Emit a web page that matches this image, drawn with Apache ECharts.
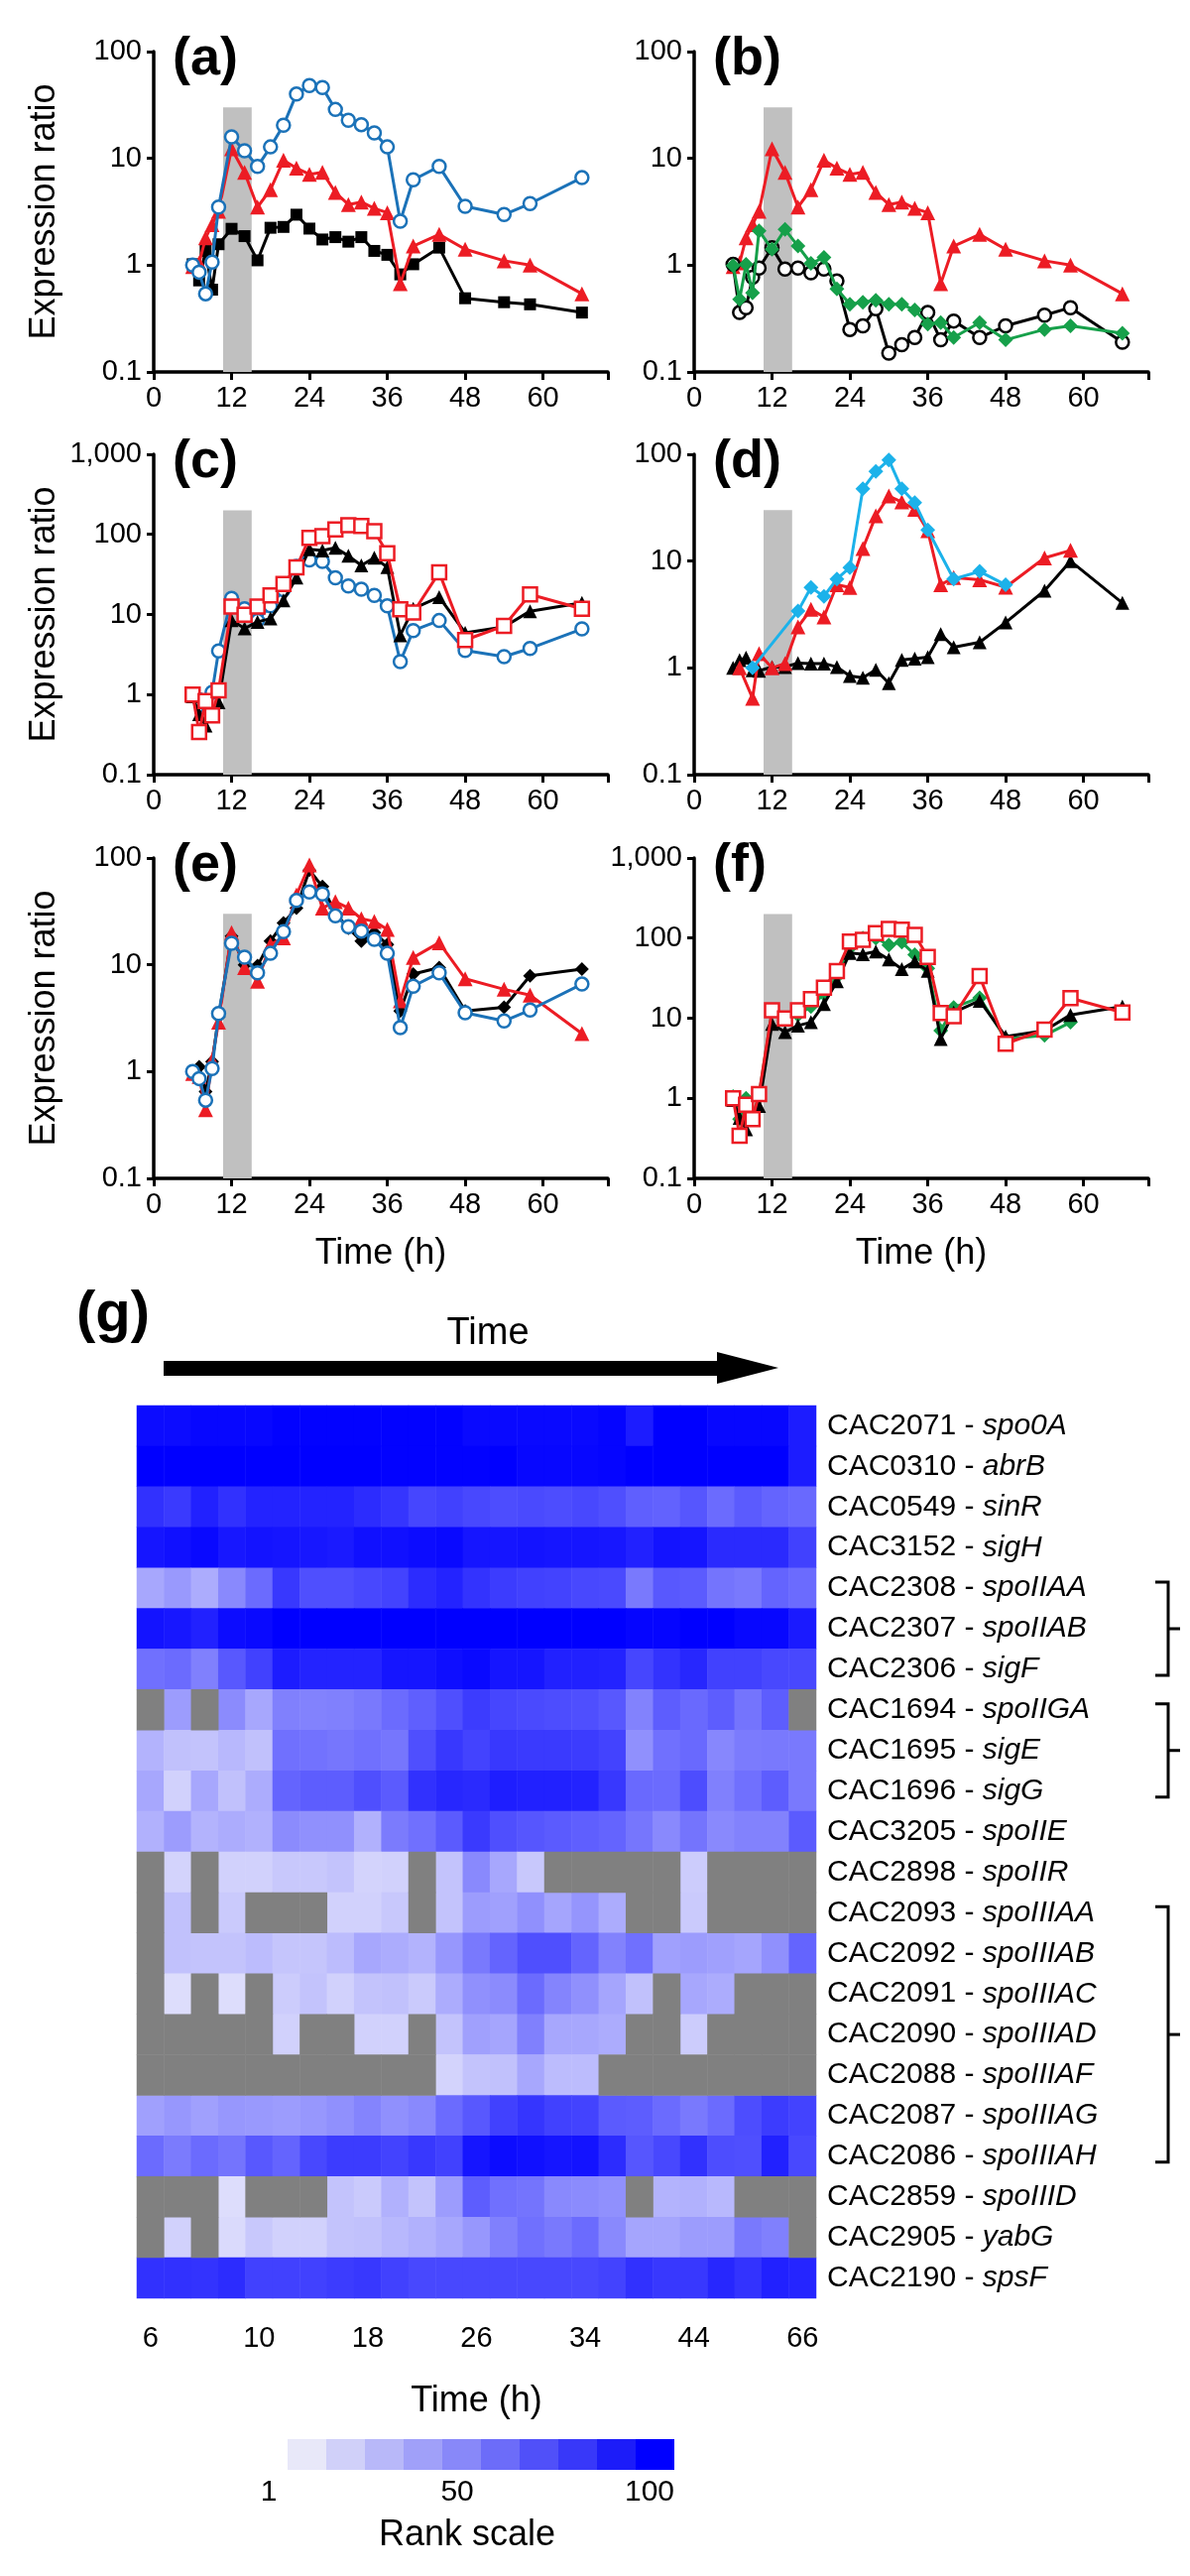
<!DOCTYPE html>
<html><head><meta charset="utf-8">
<script src="https://cdn.jsdelivr.net/npm/echarts@6/dist/echarts.min.js"></script>
<style>html,body{margin:0;padding:0;background:#fff}#c{width:1200px;height:2597px}</style>
</head><body><div id="c"></div>
<script>
// ---------------- DATA ----------------
const times = [6,7,8,9,10,12,14,16,18,20,22,24,26,28,30,32,34,36,38,40,44,48,54,58,66];
const yTicks = [0.1, 1, 10, 100, 1000];
const xTicks = [0, 12, 24, 36, 48, 60];
const bandHours = [10.7, 15.1];

// panel (a)
const aBlack = [1.02,0.72,1.36,0.59,1.57,2.19,1.87,1.11,2.24,2.28,2.97,2.2,1.74,1.83,1.66,1.83,1.36,1.25,0.82,1.02,1.46,0.49,0.45,0.43,0.36];
const aRed   = [0.97,1.05,1.8,2.4,3.2,12.3,7.4,3.5,5.1,9.6,8.1,7.1,7.4,4.8,3.7,3.9,3.4,3.1,0.67,1.51,1.94,1.41,1.1,1.0,0.54];
const aBlue  = [1.0,0.86,0.54,1.07,3.5,15.9,11.8,8.4,12.8,20.4,40,48,46,28.7,22.7,20.7,17.3,12.8,2.58,6.3,8.4,3.56,2.98,3.77,6.6];
// panel (b)
const bBlack = [1.02,0.36,0.40,0.77,0.94,1.46,0.92,0.94,0.85,0.92,0.71,0.25,0.27,0.39,0.15,0.18,0.21,0.36,0.20,0.30,0.21,0.27,0.34,0.40,0.19];
const bGreen = [0.99,0.48,1.02,0.55,2.1,1.41,2.16,1.51,1.04,1.18,0.60,0.43,0.45,0.47,0.43,0.43,0.38,0.28,0.29,0.21,0.29,0.20,0.25,0.27,0.23];
// panel (c)
const cRed   = [1.0,0.34,0.83,0.55,1.13,12.6,9.9,12.6,17.3,24,38.7,90.8,95,115,130,127,110,58,11.6,10.6,33.5,4.8,7.2,17.8,11.8];
const cBlack = [0.95,0.57,0.41,0.6,0.8,8.5,6.7,8.1,8.9,15,29,65,63,68,54,41,51,39,5.5,11.8,16.5,5.9,7.0,11,14];
// panel (d)
const dBlack = [1.0,1.18,1.25,0.95,0.94,1.02,1.02,1.11,1.10,1.10,1.02,0.84,0.81,0.96,0.72,1.19,1.22,1.26,2.07,1.56,1.74,2.66,5.28,10,4.06];
const dRed   = [null,1.0,null,0.52,1.36,1.0,1.1,2.42,3.53,3.0,6.0,5.66,13.1,26.6,40.7,35.8,30.5,19.3,6.0,7.0,6.7,5.7,10.7,12.6,null];
const dCyan  = [null,null,null,1.0,null,null,null,3.4,5.66,4.68,6.8,8.7,47.5,69,88.5,47.5,35.3,19.6,null,6.8,8.0,6.0,null,null,null];
// panel (e)
const eBlack = [1.0,1.11,0.65,1.24,3.24,18.6,10,9.8,16.7,24.6,34,77,54,30.5,22,16.7,20,15.5,3.7,8.2,9.4,3.7,4.0,7.9,9.1];
const eRed   = [0.96,0.9,0.44,1.28,2.9,20,9.4,7.0,15.5,17.9,45,86,34,39,34,27,25.5,21.4,4.6,11.7,16.1,7.4,5.9,5.2,2.27];
// panel (f)
const fGreen = [1.05,0.55,1.0,0.6,1.1,12,9.5,11,14,20,33,75,100,100,82,89,62,42,7.0,13.6,18,5.5,6.1,8.9,null];

// heatmap (g)
const geneIds = ['CAC2071','CAC0310','CAC0549','CAC3152','CAC2308','CAC2307','CAC2306','CAC1694','CAC1695','CAC1696','CAC3205','CAC2898','CAC2093','CAC2092','CAC2091','CAC2090','CAC2088','CAC2087','CAC2086','CAC2859','CAC2905','CAC2190'];
const geneNames = ['spo0A','abrB','sinR','sigH','spoIIAA','spoIIAB','sigF','spoIIGA','sigE','sigG','spoIIE','spoIIR','spoIIIAA','spoIIIAB','spoIIIAC','spoIIIAD','spoIIIAF','spoIIIAG','spoIIIAH','spoIIID','yabG','spsF'];
const heatTimeLabels = ['6','10','18','26','34','44','66'];
const rankRows = [
 [95,95,97,97,97,99,99,99,99,99,99,99,96,96,96,96,96,98,88,100,100,97,97,97,88],
 [100,100,100,100,100,100,100,100,100,99,99,99,99,100,97,97,97,98,100,100,100,100,100,100,88],
 [79,75,86,79,85,85,85,85,81,77,70,72,69,67,68,67,69,66,59,58,63,54,61,57,55],
 [91,93,96,90,92,91,90,89,93,93,95,96,91,91,92,91,91,90,86,92,91,82,82,82,72],
 [28,34,26,41,54,76,66,66,69,71,81,85,78,74,72,71,69,68,48,62,61,50,48,57,54],
 [92,90,86,95,96,100,100,100,100,100,100,100,100,100,100,100,100,100,98,98,100,100,97,97,89],
 [52,54,45,62,72,88,85,85,85,91,91,94,96,91,91,86,86,85,70,78,83,72,72,69,69],
 [null,33,null,40,28,45,44,45,48,54,59,66,74,70,68,67,66,62,44,60,55,60,50,60,null],
 [23,17,16,21,17,52,51,49,52,49,66,76,71,76,75,75,74,71,38,52,55,42,47,48,48],
 [28,10,28,17,26,57,60,60,66,61,79,83,82,87,86,86,85,76,55,54,67,45,52,60,48],
 [24,33,23,26,24,40,38,38,24,47,52,61,75,66,63,61,59,57,49,41,50,41,44,44,61],
 [null,9,null,10,10,14,14,16,9,10,null,16,41,28,14,null,null,null,null,null,12,null,null,null,null],
 [null,17,null,13,null,null,null,10,10,14,null,16,33,31,38,29,36,26,null,null,13,null,null,null,null],
 [null,17,16,16,19,15,15,19,28,26,23,35,48,57,66,66,57,44,52,31,33,31,29,38,57],
 [null,5,null,5,null,12,16,10,16,17,13,26,38,40,54,43,38,29,17,null,28,26,null,null,null],
 [null,null,null,null,null,10,null,null,10,10,null,16,31,29,45,28,28,26,null,null,12,null,null,null,null],
 [null,null,null,null,null,null,null,null,null,null,null,9,16,17,28,19,19,null,null,null,null,null,null,null,null],
 [31,35,31,35,34,33,35,38,43,38,41,54,62,72,77,72,71,61,60,54,48,54,67,74,71],
 [54,47,54,50,62,57,69,74,74,71,76,72,91,95,93,91,92,81,63,69,79,67,66,86,69],
 [null,null,null,5,null,null,null,16,13,24,16,33,60,52,50,41,40,38,null,23,24,21,null,null,null],
 [null,10,null,6,14,10,10,16,17,21,24,28,35,45,52,48,54,41,29,29,33,33,48,45,null],
 [79,79,78,81,72,72,72,74,76,72,69,69,69,69,69,69,69,71,79,76,76,83,78,86,84]
];
const bracketGroups = [[4,6],[7,9],[12,18]];
const rankScaleLabels = [1, 50, 100];
const rankSteps = ['#e8e8f9','#d0d0f9','#b8b8f9','#a0a0f9','#8888f9','#6c6cf9','#5050f9','#3838f9','#1c1cf9','#0000ff'];

// ---------------- STYLE / LAYOUT ----------------
const FONT = "'Liberation Sans', Arial, Helvetica, sans-serif";
const RED = '#ec1c24', BLUE = '#1b72b8', GREEN = '#16a04a', CYAN = '#1cb2ea';
const colLeft = [155, 700], rowTop = [52, 458, 865];
const GW = 458, GH = 323;
const HM = {left: 138, top: 1417, width: 685, height: 900};

const markStyles = {
  blackSquare: {symbol:'rect', size:12, line:'#000', fill:'#000'},
  redTri: {symbol:'triangle', size:15, line:RED, fill:RED},
  blueCircle: {symbol:'circle', size:13, line:BLUE, fill:'#fff', open:true},
  blackCircle: {symbol:'circle', size:13, line:'#000', fill:'#fff', open:true},
  greenDiamond: {symbol:'diamond', size:15, line:GREEN, fill:GREEN},
  redSquare: {symbol:'rect', size:14, line:RED, fill:'#fff', open:true},
  blackTri: {symbol:'triangle', size:14, line:'#000', fill:'#000'},
  cyanDiamond: {symbol:'diamond', size:15, line:CYAN, fill:CYAN},
  blackDiamond: {symbol:'diamond', size:14, line:'#000', fill:'#000'}
};

const panels = [
 {label:'(a)', col:0, row:0, yMax:100,  bandTop:30,  lines:[['blackSquare',aBlack],['redTri',aRed],['blueCircle',aBlue]]},
 {label:'(b)', col:1, row:0, yMax:100,  bandTop:30,  lines:[['redTri',aRed],['blackCircle',bBlack],['greenDiamond',bGreen]]},
 {label:'(c)', col:0, row:1, yMax:1000, bandTop:200, lines:[['blueCircle',aBlue],['blackTri',cBlack],['redSquare',cRed]]},
 {label:'(d)', col:1, row:1, yMax:100,  bandTop:30,  lines:[['blackTri',dBlack],['redTri',dRed],['cyanDiamond',dCyan]]},
 {label:'(e)', col:0, row:2, yMax:100,  bandTop:30,  lines:[['blackDiamond',eBlack],['redTri',eRed],['blueCircle',aBlue]]},
 {label:'(f)', col:1, row:2, yMax:1000, bandTop:200, lines:[['greenDiamond',fGreen],['blackTri',cBlack],['redSquare',cRed]]}
];

const fmtNum = v => Number(Number(v).toPrecision(3)).toLocaleString('en-US');
const axisLineStyle = {color:'#000', width:3.5};

const grid = [], xAxis = [], yAxis = [], series = [], title = [];
panels.forEach((p, i) => {
  grid.push({left: colLeft[p.col], top: rowTop[p.row], width: GW, height: GH});
  xAxis.push({
    type:'value', gridIndex:i, min:0, max:70, interval:12,
    axisLine:{show:true, onZero:false, lineStyle:axisLineStyle},
    axisTick:{show:true, length:8, lineStyle:{width:3, color:'#000'}},
    axisLabel:{fontSize:29, color:'#000', margin:12, fontFamily:FONT,
      formatter: v => xTicks.indexOf(v) >= 0 ? String(v) : ''},
    splitLine:{show:false},
    name: p.row === 2 ? 'Time (h)' : '', nameLocation:'middle', nameGap:58,
    nameTextStyle:{fontSize:36, color:'#000', fontFamily:FONT}
  });
  yAxis.push({
    type:'log', logBase:10, gridIndex:i, min:yTicks[0], max:p.yMax,
    axisLine:{show:true, lineStyle:axisLineStyle},
    axisTick:{show:true, length:7, lineStyle:{width:3, color:'#000'}},
    minorTick:{show:false},
    axisLabel:{fontSize:29, color:'#000', margin:12, fontFamily:FONT, formatter: fmtNum},
    splitLine:{show:false},
    name: p.col === 0 ? 'Expression ratio' : '', nameLocation:'middle', nameGap:92,
    nameTextStyle:{fontSize:36, color:'#000', fontFamily:FONT}
  });
  // grey band
  series.push({
    type:'line', xAxisIndex:i, yAxisIndex:i, data:[], z:1, silent:true,
    markArea:{silent:true, itemStyle:{color:'#c0c0c0'},
      data:[[{xAxis:bandHours[0], yAxis:yTicks[0]},{xAxis:bandHours[1], yAxis:p.bandTop}]]}
  });
  p.lines.forEach(([kind, vals], k) => {
    const s = markStyles[kind];
    const data = [];
    vals.forEach((v, j) => { if (v !== null) data.push([times[j], v]); });
    series.push({
      type:'line', xAxisIndex:i, yAxisIndex:i, data, z:2+k,
      connectNulls:true, showSymbol:true, showAllSymbol:true,
      symbol:s.symbol, symbolSize:s.size,
      lineStyle:{color:s.line, width:3},
      itemStyle: s.open ? {color:s.fill, borderColor:s.line, borderWidth:2.5} : {color:s.line, borderWidth:0},
      emphasis:{disabled:true}, animation:false
    });
  });
  title.push({text:p.label, left: colLeft[p.col]+19, top: rowTop[p.row]-19, padding:0,
    textStyle:{fontSize:54, fontWeight:'bold', color:'#000', fontFamily:FONT}});
});

// heatmap grid
const hmIndex = grid.length;
grid.push({left:HM.left, top:HM.top, width:HM.width, height:HM.height});
xAxis.push({
  type:'category', gridIndex:hmIndex, data: times.map(String),
  axisLine:{show:false}, axisTick:{show:false},
  axisLabel:{fontSize:29, color:'#000', margin:26, fontFamily:FONT,
    interval:(idx, val) => heatTimeLabels.indexOf(val) >= 0},
  splitLine:{show:false},
  name:'Time (h)', nameLocation:'middle', nameGap:86,
  nameTextStyle:{fontSize:36, color:'#000', fontFamily:FONT}
});
yAxis.push({
  type:'category', gridIndex:hmIndex, inverse:true, position:'right',
  data: geneIds.map((g, r) => g + '|' + geneNames[r]),
  axisLine:{show:false}, axisTick:{show:false}, splitLine:{show:false},
  axisLabel:{margin:11, align:'left',
    formatter: v => { const [g, n] = v.split('|'); return '{n|' + g + ' - }{i|' + n + '}'; },
    rich:{n:{fontSize:30, color:'#000', fontFamily:FONT}, i:{fontSize:30, color:'#000', fontStyle:'italic', fontFamily:FONT}}}
});
const present = [], missing = [];
rankRows.forEach((row, r) => row.forEach((v, c) => {
  if (v === null) missing.push([c, r, 0]); else present.push([c, r, v]);
}));
const heatSeriesIndex = series.length;
series.push({type:'heatmap', xAxisIndex:hmIndex, yAxisIndex:hmIndex, data:present,
  itemStyle:{borderWidth:0}, emphasis:{disabled:true}, animation:false});
series.push({type:'heatmap', xAxisIndex:hmIndex, yAxisIndex:hmIndex, data:missing,
  itemStyle:{color:'#808080', borderWidth:0}, emphasis:{disabled:true}, animation:false});
const legendSeriesIndex = series.length;
series.push({type:'scatter', xAxisIndex:hmIndex, yAxisIndex:hmIndex, data:[], silent:true});

// graphics: arrow, brackets, labels
const rowH = HM.height / geneIds.length;
const rowCenter = r => HM.top + rowH * (r + 0.5);
const bx = 1178;
const graphic = [];
bracketGroups.forEach(([r0, r1]) => {
  const y0 = rowCenter(r0) - 6, y1 = rowCenter(r1) + 6, ym = (rowCenter(r0) + rowCenter(r1)) / 2;
  graphic.push({type:'polyline', shape:{points:[[bx-13, y0],[bx, y0],[bx, y1],[bx-13, y1]]},
    style:{stroke:'#000', lineWidth:3, fill:null}});
  graphic.push({type:'line', shape:{x1:bx, y1:ym, x2:bx+12, y2:ym}, style:{stroke:'#000', lineWidth:3}});
});
graphic.push({type:'rect', shape:{x:165, y:1372, width:560, height:15}, style:{fill:'#000'}});
graphic.push({type:'polygon', shape:{points:[[723,1363],[785,1379],[723,1395]]}, style:{fill:'#000'}});
graphic.push({type:'text', x:492, y:1345, style:{text:'Time', font:'38px ' + FONT, fill:'#000', align:'center', verticalAlign:'middle'}});
graphic.push({type:'text', x:77, y:1326, style:{text:'(g)', font:'bold 58px ' + FONT, fill:'#000', align:'left', verticalAlign:'middle'}});
const cbLeft = 290, cbWidth = 390, cbTop = 2459;
rankScaleLabels.forEach(v => {
  graphic.push({type:'text', x: cbLeft - 19 + (v - 1) / 99 * (cbWidth - 6), y: 2513,
    style:{text:String(v), font:'30px ' + FONT, fill:'#000', align:'center', verticalAlign:'middle'}});
});
graphic.push({type:'text', x:471, y:2556, style:{text:'Rank scale', font:'36px ' + FONT, fill:'#000', align:'center', verticalAlign:'middle'}});

const option = {
  animation:false,
  backgroundColor:'#fff',
  textStyle:{fontFamily:FONT},
  title, grid, xAxis, yAxis, series, graphic,
  visualMap:[
    {type:'continuous', show:false, seriesIndex:heatSeriesIndex, dimension:2, min:1, max:100,
     inRange:{color:['#e6e6fc','#0000ff']}},
    {type:'piecewise', show:true, seriesIndex:legendSeriesIndex, orient:'horizontal',
     left:cbLeft, top:cbTop, padding:0, itemWidth:cbWidth/10, itemHeight:31, itemGap:0,
     itemSymbol:'rect', showLabel:false, selectedMode:false, hoverLink:false,
     pieces: rankSteps.map((c, i) => ({min: i*10, max: (i+1)*10, color: c}))}
  ]
};
const chart = echarts.init(document.getElementById('c'), null, {renderer:'canvas'});
chart.setOption(option);
</script>
</body></html>
